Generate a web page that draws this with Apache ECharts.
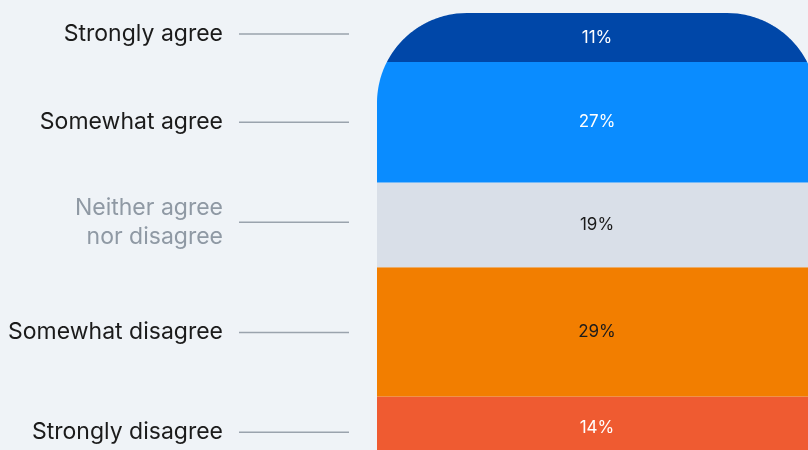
<!DOCTYPE html>
<html><head><meta charset="utf-8">
<script src="https://cdn.jsdelivr.net/npm/echarts@6/dist/echarts.min.js"></script>
<style>html,body{margin:0;padding:0;background:#eff3f7}#c{width:808px;height:450px}</style>
</head><body><div id="c"></div>
<script>
// Data, stacked from bottom to top
const categories = ['Strongly disagree', 'Somewhat disagree', 'Neither agree\nnor disagree', 'Somewhat agree', 'Strongly agree'];
const values = [14, 29, 19, 27, 11];
// Styles (kept apart from the data)
const segmentColors = ['#ef5b31', '#f27e00', '#d9dfe8', '#0a8cff', '#0047a8'];
const valueTextColors = ['#ffffff', '#1b1b1b', '#1b1b1b', '#ffffff', '#ffffff'];
const nameColors = ['#1b1b1b', '#1b1b1b', '#8f99a4', '#1b1b1b', '#1b1b1b'];
const labelNudge = [4.5, 0.5, -2.5, 0, -3.5];

let acc = 0;
const rows = values.map((v, i) => { const r = [0, acc, acc + v, v, i]; acc += v; return r; });
const total = acc;

const chart = echarts.init(document.getElementById('c'));
const FONT = 'Inter, "Noto Sans", sans-serif';
chart.setOption({
  backgroundColor: '#eff3f7',
  animation: false,
  grid: { left: 377, width: 440, top: 13, height: 446, outerBoundsMode: 'none', containLabel: false },
  xAxis: { type: 'category', data: [''], show: false },
  yAxis: { type: 'value', min: 0, max: total, show: false },
  series: [{
    type: 'custom',
    clip: false,
    data: rows,
    renderItem: function (params, api) {
      const i = api.value(4);
      const v = api.value(3);
      const lo = api.coord([0, api.value(1)]);
      const hi = api.coord([0, api.value(2)]);
      const band = api.size([1, 0])[0];
      const L = lo[0] - band / 2, R = lo[0] + band / 2;
      const T = api.coord([0, total])[1];
      const y0 = hi[1], y1 = lo[1];
      const r = 90;
      function xl(y) {
        if (y >= T + r) return L;
        const dy = T + r - y;
        return L + r - Math.sqrt(Math.max(0, r * r - dy * dy));
      }
      const ys = [];
      const N = 80;
      for (let k = 0; k <= N; k++) ys.push(y0 + (y1 - y0) * k / N);
      const pts = [];
      ys.forEach(y => pts.push([xl(y), y]));
      for (let k = ys.length - 1; k >= 0; k--) pts.push([L + R - xl(ys[k]), ys[k]]);
      const cy = (y0 + y1) / 2;
      const ly = cy + labelNudge[i];
      return {
        type: 'group',
        children: [
          { type: 'polygon', shape: { points: pts }, style: { fill: segmentColors[i] } },
          { type: 'text', style: { x: (L + R) / 2, y: cy, text: v + '%', fill: valueTextColors[i], font: '400 17px ' + FONT, align: 'center', verticalAlign: 'middle' } },
          { type: 'text', style: { x: L - 154, y: ly, text: categories[i], fill: nameColors[i], font: '400 23px ' + FONT, align: 'right', verticalAlign: 'middle', lineHeight: 29 } },
          { type: 'line', shape: { x1: L - 138, y1: ly, x2: L - 28, y2: ly }, style: { stroke: '#9aa3ad', lineWidth: 1.5 } }
        ]
      };
    }
  }]
});
</script>
</body></html>
